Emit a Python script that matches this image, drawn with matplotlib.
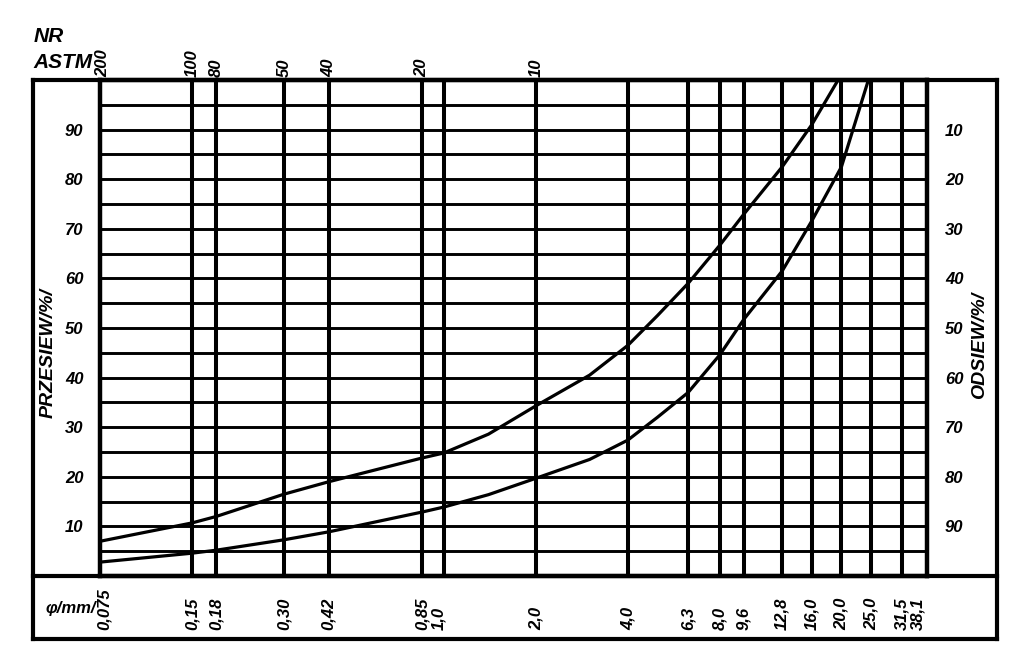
import matplotlib
matplotlib.use("Agg")
import matplotlib.pyplot as plt
from matplotlib.lines import Line2D
from matplotlib.transforms import blended_transform_factory, offset_copy

# ---- data ----
sieve_mm = [0.075, 0.15, 0.18, 0.30, 0.42, 0.85, 1.0, 2.0, 4.0, 6.3, 8.0,
            9.6, 12.8, 16.0, 20.0, 25.0, 31.5, 38.1]
sieve_labels = ["0,075", "0,15", "0,18", "0,30", "0,42", "0,85", "1,0", "2,0",
                "4,0", "6,3", "8,0", "9,6", "12,8", "16,0", "20,0", "25,0",
                "31,5", "38,1"]
astm_mm = [0.075, 0.15, 0.18, 0.30, 0.42, 0.85, 2.0]
astm_labels = ["200", "100", "80", "50", "40", "20", "10"]

pass_ticks = [10, 20, 30, 40, 50, 60, 70, 80, 90]
retain_ticks = [100 - v for v in pass_ticks]

upper_x = [0.075, 0.15, 0.18, 0.30, 0.42, 0.85, 1.0, 1.4, 2.0, 3.0, 4.0,
           5.0, 6.3, 8.0, 9.6, 12.8, 16.0, 19.5]
upper_y = [7.0, 10.7, 12.0, 16.5, 19.0, 23.8, 24.8, 28.6, 34.3, 40.5, 46.5,
           52.5, 59.0, 66.7, 73.0, 82.5, 91.0, 100.0]
lower_x = [0.075, 0.15, 0.18, 0.30, 0.42, 0.85, 1.0, 1.4, 2.0, 3.0, 4.0,
           5.0, 6.3, 8.0, 9.6, 12.8, 16.0, 20.0, 24.5]
lower_y = [2.8, 4.6, 5.2, 7.3, 8.9, 12.9, 13.9, 16.4, 19.7, 23.5, 27.4,
           32.0, 37.0, 44.6, 51.8, 61.5, 71.6, 82.5, 100.0]

# ---- figure ----
W, H = 1024, 664
fig = plt.figure(figsize=(W / 100, H / 100), dpi=100)
fig.patch.set_facecolor("white")

def fx(x):
    return x / W

def fy(y):
    return 1 - y / H

ax = fig.add_axes([fx(100), fy(576), (927 - 100) / W, (576 - 80) / H])
ax.set_xscale("log")
ax.set_xlim(0.075, 38.1)
ax.set_ylim(0, 100)

FAM = ["Liberation Sans", "DejaVu Sans"]
FONT = dict(family=FAM, weight="bold", style="italic", color="black")

# grid lines
for v in range(5, 100, 5):
    ax.axhline(v, color="black", lw=2.1, zorder=1)
for s in sieve_mm[1:-1]:
    ax.axvline(s, color="black", lw=2.9, zorder=1)

for sp in ax.spines.values():
    sp.set_linewidth(3.2)

# curves
ax.plot(upper_x, upper_y, color="black", lw=2.3, zorder=3,
        solid_joinstyle="round")
ax.plot(lower_x, lower_y, color="black", lw=2.3, zorder=3,
        solid_joinstyle="round")

# ticks
ax.set_xticks([])
ax.xaxis.set_minor_locator(matplotlib.ticker.NullLocator())
ax.set_yticks(pass_ticks)
ax.set_yticklabels([str(v) for v in pass_ticks])
for t in ax.get_yticklabels():
    t.set_fontproperties(dict(family=FAM, weight="bold", style="italic", size=12))
ax.tick_params(axis="y", length=0, pad=12)

ax2 = ax.twinx()
ax2.set_ylim(0, 100)
ax2.set_yticks(pass_ticks)
ax2.set_yticklabels([str(v) for v in retain_ticks])
for t in ax2.get_yticklabels():
    t.set_fontproperties(dict(family=FAM, weight="bold", style="italic", size=12))
ax2.tick_params(axis="y", length=0, pad=13)
for sp in ax2.spines.values():
    sp.set_visible(False)

# bottom sieve labels
tb = blended_transform_factory(ax.transData, ax.transAxes)
y_bot = (576 - 630) / 496
shift = {"1,0": -5, "38,1": -9, "0,075": 4}
for s, lab in zip(sieve_mm, sieve_labels):
    tr = offset_copy(tb, fig=fig, x=shift.get(lab, 0) * 0.72, y=0, units="points")
    ax.text(s, y_bot, lab, transform=tr, rotation=90, ha="center", va="bottom",
            fontsize=12, clip_on=False, **FONT)

# top ASTM labels
y_top = (576 - 77) / 496
tshift = {"200": 3}
for s, lab in zip(astm_mm, astm_labels):
    tr = offset_copy(tb, fig=fig, x=tshift.get(lab, 0) * 0.72, y=0, units="points")
    ax.text(s, y_top, lab, transform=tr, rotation=90, ha="center", va="bottom",
            fontsize=12, clip_on=False, **FONT)

fig.text(fx(34), fy(37), "NR", fontsize=15, ha="left", va="center", **FONT)
fig.text(fx(33), fy(62), "ASTM", fontsize=15, ha="left", va="center", **FONT)

fig.text(fx(71), fy(608), "φ/mm/", fontsize=12, ha="center", va="center", **FONT)

fig.text(fx(48), fy(353), "PRZESIEW/%/", fontsize=14, rotation=90,
         ha="center", va="center", **FONT)
fig.text(fx(980), fy(345), "ODSIEW/%/", fontsize=14, rotation=90,
         ha="center", va="center", **FONT)

# outer frame
def fline(x0, y0, x1, y1, lw=3.0):
    fig.add_artist(Line2D([fx(x0), fx(x1)], [fy(y0), fy(y1)], color="black",
                          lw=lw, solid_capstyle="projecting"))

fline(33, 80, 997, 80)
fline(33, 639, 997, 639)
fline(33, 80, 33, 639)
fline(997, 80, 997, 639)
fline(33, 576, 997, 576)

fig.savefig("out.png", dpi=100, facecolor="white")
